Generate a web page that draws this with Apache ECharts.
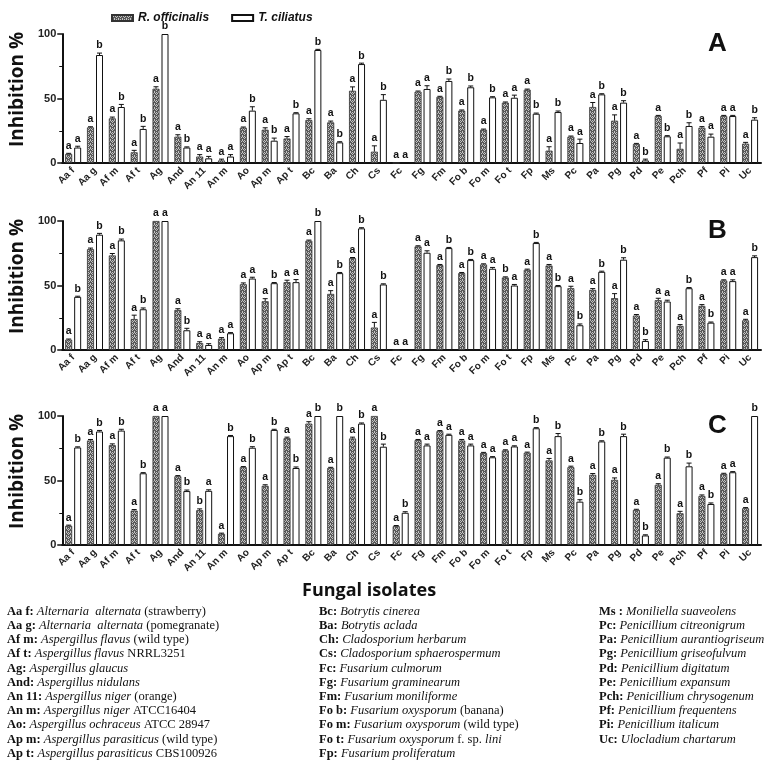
<!DOCTYPE html>
<html><head><meta charset="utf-8">
<script src="https://cdn.jsdelivr.net/npm/echarts@6/dist/echarts.min.js"></script>
<style>html,body{margin:0;padding:0;background:#fff}#c{width:771px;height:770px}</style>
</head><body><div id="c"></div><script>
// ---------- DATA ----------
const categories = ['Aa f','Aa g','Af m','Af t','Ag','And','An 11','An m','Ao','Ap m','Ap t','Bc','Ba','Ch','Cs','Fc','Fg','Fm','Fo b','Fo m','Fo t','Fp','Ms','Pc','Pa','Pg','Pd','Pe','Pch','Pf','Pi','Uc'];
const seriesNames = ['R. officinalis','T. ciliatus'];
const panelLabels = ['A','B','C'];
const yTicks = [0,50,100];

const A_R = [7,27.6,34.6,8.3,57.6,20.4,5,2,27.4,25.8,19,33.3,31.5,56,8.8,0,55.3,51.2,40.6,25.8,46.8,56.8,9.6,20.4,43.4,32.8,14.7,36.4,11,27.4,36.4,15];
const A_T = [12,83.7,43.4,26.4,100,12,3.6,5,40.6,17.3,38.5,87.6,16,76.7,49,0,57.4,63.6,58.7,50.9,50.6,38.2,39.5,15.5,53.2,46.8,2,20.7,28.7,20.4,36.4,33.6];
const A_R_err = [0.5,0.5,1,1.5,1.5,1.5,1.5,1,0.5,1.5,1.5,1,1,3,4.5,0,0.5,0.5,0.5,0.5,0.5,0.5,3,0.5,3.5,4.5,0.5,0.5,4.5,0.8,0.5,1];
const A_T_err = [1,1.5,2,2,0,0.5,1.5,1.5,3,2,0.5,0.5,0.5,0.7,4,0,2.5,1.5,1,0.5,2,0.5,0.8,3,0.5,1.5,1,0.5,2.5,2,0.5,1.5];
const A_R_let = ['a','a','a','a','a','a','a','a','a','a','a','a','a','a','a','a','a','a','a','a','a','a','a','a','a','a','a','a','a','a','a','a'];
const A_T_let = ['a','b','b','b','b','b','a','a','b','b','b','b','b','b','b','a','a','b','b','b','a','b','b','a','b','b','b','b','b','a','a','b'];

const B_R = [8,78.2,73.3,24,100,31,5.4,8.8,51,37.8,52.6,84.7,43.5,71.2,17.4,0,80.3,65.8,59.6,66.3,56.2,62.2,65.5,47.9,46.6,40.2,26.7,38.6,18.7,34.2,53.9,23];
const B_T = [41.2,89.4,85,31.6,100,15.3,3.9,13,55.4,51.8,52.6,100,59.6,94.3,50.8,0,75.4,79,69.7,63,50,82.9,49.5,19.2,60.6,70,7,37.6,47.9,21.2,53.4,72];
const B_R_err = [0.5,0.8,1.5,3,0,1,1,0.8,1,2,1.5,0.5,2.5,0.5,4,0,0.5,0.5,0.5,0.5,0.5,0.5,0.8,1.5,1,3.5,0.8,1.5,1,1,0.5,0.8];
const B_T_err = [0.5,1,1,1,0,1.5,1,0.5,1,0.5,2,0,0.5,0.5,0.5,0,1.5,0.5,0.5,1,0.8,0.5,0.5,1,0.5,1.5,1,1,0.5,0.5,1,1];
const B_R_let = ['a','a','a','a','a','a','a','a','a','a','a','a','a','a','a','a','a','a','a','a','b','a','a','a','a','a','a','a','a','a','a','a'];
const B_T_let = ['b','b','b','b','a','b','a','a','a','b','a','b','b','b','b','a','a','b','b','a','a','b','b','b','b','b','b','a','b','b','a','b'];

const C_R = [14.9,81,77.4,26.7,100,53.3,27,8.7,60.3,45.9,82.8,94.1,59.7,82.6,100,14.6,81.3,88.2,81,71.3,73.3,71.5,65.6,60.3,54.4,50.5,27.2,46.7,24.6,38,55.1,28.5];
const C_T = [75.6,88,88.7,55.6,100,41.8,42,84.4,75.4,89.2,59.7,100,100,94.1,76.2,25,77.2,85.4,77.2,68,76.4,90.5,84.4,33.6,80.3,84.4,7.4,67.7,61,31.8,56.4,100];
const C_R_err = [0.5,0.8,1,0.8,0,0.5,1,0.5,0.5,0.8,0.8,1.5,0.5,1,0,0.5,0.5,0.5,0.8,0.5,0.5,0.5,1.5,0.8,1,1.5,0.5,0.8,1.5,0.8,0.5,0.5];
const C_T_err = [0.5,0.8,1,0.5,0,0.8,0.8,0.5,0.8,0.5,0.8,0,0,0.5,2,0.8,1,0.5,1,0.5,0.5,0.5,2,1.5,0.5,1.5,0.5,0.5,2.5,0.8,0.5,0];
const C_R_let = ['a','a','a','a','a','a','b','a','a','a','a','a','a','a','a','a','a','a','a','a','a','a','a','a','a','a','a','a','a','a','a','a'];
const C_T_let = ['b','b','b','b','a','b','a','b','b','b','b','b','b','b','b','b','a','a','a','a','a','b','b','b','b','b','b','b','b','b','a','b'];

const keyCol1 = [
 ['Aa f:','Alternaria  alternata','(strawberry)'],
 ['Aa g:','Alternaria  alternata','(pomegranate)'],
 ['Af m:','Aspergillus flavus','(wild type)'],
 ['Af t:','Aspergillus flavus','NRRL3251'],
 ['Ag:','Aspergillus glaucus',''],
 ['And:','Aspergillus nidulans',''],
 ['An 11:','Aspergillus niger','(orange)'],
 ['An m:','Aspergillus niger','ATCC16404'],
 ['Ao:','Aspergillus ochraceus','ATCC 28947'],
 ['Ap m:','Aspergillus parasiticus','(wild type)'],
 ['Ap t:','Aspergillus parasiticus','CBS100926']
];
const keyCol2 = [
 ['Bc:','Botrytis cinerea',''],
 ['Ba:','Botrytis aclada',''],
 ['Ch:','Cladosporium herbarum',''],
 ['Cs:','Cladosporium sphaerospermum',''],
 ['Fc:','Fusarium culmorum',''],
 ['Fg:','Fusarium graminearum',''],
 ['Fm:','Fusarium moniliforme',''],
 ['Fo b:','Fusarium oxysporum','(banana)'],
 ['Fo m:','Fusarium oxysporum','(wild type)'],
 ['Fo t:','Fusarium oxysporum','f. sp. {i|lini}'],
 ['Fp:','Fusarium proliferatum','']
];
const keyCol3 = [
 ['Ms :','Moniliella suaveolens',''],
 ['Pc:','Penicillium citreonigrum',''],
 ['Pa:','Penicillium aurantiogriseum',''],
 ['Pg:','Penicillium griseofulvum',''],
 ['Pd:','Penicillium digitatum',''],
 ['Pe:','Penicillium expansum',''],
 ['Pch:','Penicillium chrysogenum',''],
 ['Pf:','Penicillium frequentens',''],
 ['Pi:','Penicillium italicum',''],
 ['Uc:','Ulocladium chartarum','']
];

// ---------- STYLE / LAYOUT ----------
const panels = [
  {R:A_R,T:A_T,Re:A_R_err,Te:A_T_err,Rl:A_R_let,Tl:A_T_let},
  {R:B_R,T:B_T,Re:B_R_err,Te:B_T_err,Rl:B_R_let,Tl:B_T_let},
  {R:C_R,T:C_T,Re:C_R_err,Te:C_T_err,Rl:C_R_let,Tl:C_T_let}
];
const gridTops = [34, 221, 416];
const gridH = 129;
const BW = 7, GAP = 2;
const SANS = 'Liberation Sans, Arial, sans-serif';

function makePattern(){
  const c = document.createElement('canvas'); c.width = 4; c.height = 4;
  const g = c.getContext('2d');
  g.fillStyle = '#585858'; g.fillRect(0,0,4,4);
  g.fillStyle = '#c4c4c4';
  g.fillRect(0,0,1,1); g.fillRect(1,1,1,1); g.fillRect(2,0,1,1); g.fillRect(3,1,1,1);
  g.fillRect(0,2,1,1); g.fillRect(2,3,1,1);
  return c;
}
const pat = {image: makePattern(), repeat: 'repeat'};

function errRender(off, letters){
  return function(params, api){
    const i = api.value(0), v = api.value(1), e = api.value(2);
    const p0 = api.coord([i, v]);
    const p1 = api.coord([i, v + e]);
    const x = p0[0] + off;
    const children = [];
    if (e > 0) {
      children.push({type:'line', shape:{x1:x,y1:p0[1],x2:x,y2:p1[1]}, style:{stroke:'#111',lineWidth:1}});
      children.push({type:'line', shape:{x1:x-2.5,y1:p1[1],x2:x+2.5,y2:p1[1]}, style:{stroke:'#111',lineWidth:1}});
    }
    children.push({type:'text', x:x, y:p1[1]-2, style:{text:letters[params.dataIndex], fill:'#111', font:'bold 10.5px '+SANS, textAlign:'center', textVerticalAlign:'bottom'}});
    return {type:'group', children};
  };
}

const grids = [], xAxes = [], yAxes = [], series = [];
panels.forEach((p, k) => {
  grids.push({left:49, right:10, top:gridTops[k], height:gridH});
  xAxes.push({type:'category', gridIndex:k, data:categories,
    axisLine:{lineStyle:{color:'#111', width:2}},
    axisTick:{alignWithLabel:true, length:4, lineStyle:{color:'#111', width:1.5}},
    axisLabel:{rotate:45, interval:0, margin:6, color:'#222', fontWeight:'bold', fontSize:10, fontFamily:SANS}
  });
  yAxes.push({type:'value', gridIndex:k, min:yTicks[0], max:yTicks[yTicks.length-1], interval:50,
    name:'Inhibition %', nameLocation:'middle', nameGap:27,
    nameTextStyle:{fontSize:19, fontWeight:'bold', fontFamily:'Open Sans, sans-serif', color:'#111', padding:[0,0,0,18]},
    axisLine:{show:true, lineStyle:{color:'#111', width:2}},
    axisTick:{show:true, length:5, lineStyle:{color:'#111', width:1.5}},
    minorTick:{show:true, splitNumber:2, length:3, lineStyle:{color:'#111'}},
    splitLine:{show:false},
    axisLabel:{color:'#222', fontWeight:'bold', fontSize:11, fontFamily:SANS, margin:6}
  });
  series.push({type:'bar', name:seriesNames[0], xAxisIndex:k, yAxisIndex:k, data:p.R,
    barWidth:BW, barGap:(GAP/BW*100)+'%',
    itemStyle:{color:pat, borderColor:'#333', borderWidth:0.8}});
  series.push({type:'bar', name:seriesNames[1], xAxisIndex:k, yAxisIndex:k, data:p.T,
    barWidth:BW, barGap:(GAP/BW*100)+'%',
    itemStyle:{color:'#fff', borderColor:'#111', borderWidth:1}});
  series.push({type:'custom', xAxisIndex:k, yAxisIndex:k, z:5, silent:true,
    data:p.R.map((v,i)=>[i, v, p.Re[i]]), encode:{x:0, y:1},
    renderItem:errRender(-(BW+GAP)/2, p.Rl)});
  series.push({type:'custom', xAxisIndex:k, yAxisIndex:k, z:5, silent:true,
    data:p.T.map((v,i)=>[i, v, p.Te[i]]), encode:{x:0, y:1},
    renderItem:errRender((BW+GAP)/2, p.Tl)});
});

const graphics = [];
panelLabels.forEach((t, k) => {
  graphics.push({type:'text', left:708, top:gridTops[k] - 3, style:{text:t, font:'bold 26px '+SANS, fill:'#111'}});
});
graphics.push({type:'text', left:302, top:582, style:{text:'Fungal isolates', font:'bold 18px Open Sans, sans-serif', fill:'#111'}});

const rich = {
  b:{fontFamily:'Liberation Serif, serif', fontWeight:'bold', fontSize:12.5, fill:'#111'},
  i:{fontFamily:'Liberation Serif, serif', fontStyle:'italic', fontSize:12.5, fill:'#111'},
  n:{fontFamily:'Liberation Serif, serif', fontSize:12.5, fill:'#111'}
};
function keyText(row){
  let s = '{b|'+row[0]+'} {i|'+row[1]+'}';
  if (row[2]) {
    if (row[2].indexOf('{i|') >= 0) {
      const parts = row[2].split('{i|');
      s += ' {n|'+parts[0]+'}{i|'+parts[1];
    } else s += ' {n|'+row[2]+'}';
  }
  return s;
}
[[keyCol1,7],[keyCol2,319],[keyCol3,599]].forEach(([col,x]) => {
  col.forEach((row, j) => {
    graphics.push({type:'text', left:x, top:605 + j*14.2, style:{text:keyText(row), rich:rich, font:'12.5px Liberation Serif, serif'}});
  });
});

const chart = echarts.init(document.getElementById('c'), null, {renderer:'canvas'});
chart.setOption({
  animation:false,
  backgroundColor:'#fff',
  legend:{data:seriesNames, left:106, top:7, icon:'rect', itemWidth:21, itemHeight:6, itemGap:22,
    textStyle:{fontStyle:'italic', fontWeight:'bold', fontSize:12, fontFamily:SANS, color:'#111'}},
  grid:grids, xAxis:xAxes, yAxis:yAxes, series:series, graphic:graphics
});
</script></body></html>
